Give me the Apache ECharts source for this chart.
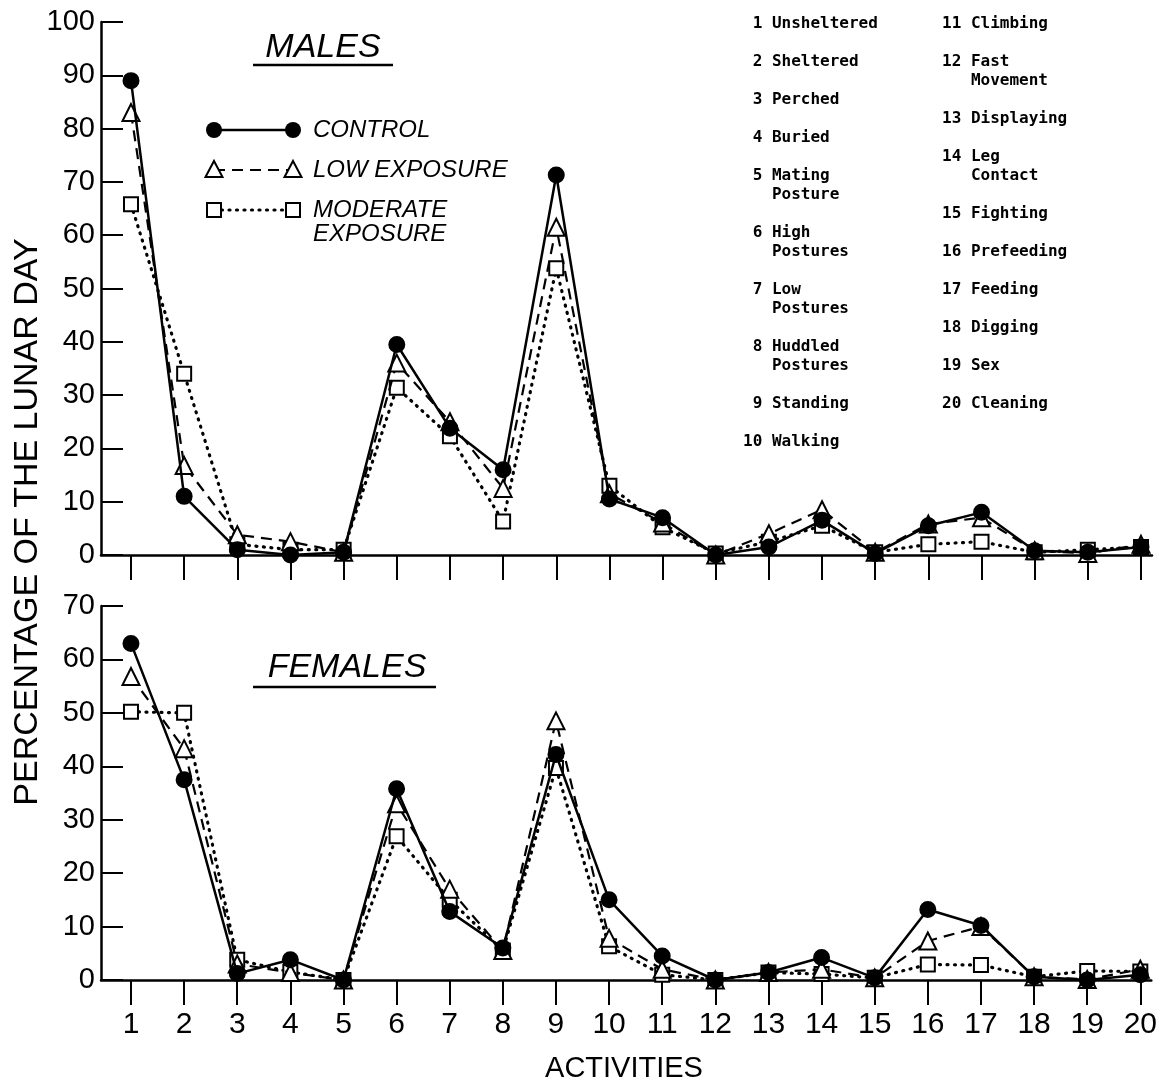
<!DOCTYPE html>
<html>
<head>
<meta charset="utf-8">
<script src="https://cdn.jsdelivr.net/npm/echarts@6/dist/echarts.min.js"></script>
<style>
  html, body { margin: 0; padding: 0; background: #ffffff; }
  #chart { width: 1160px; height: 1086px; }
</style>
</head>
<body>
<div id="chart"></div>
<script>
// Activity codes used on the x axis and in the key
const activityNumbers = [1, 2, 3, 4, 5, 6, 7, 8, 9, 10, 11, 12, 13, 14, 15, 16, 17, 18, 19, 20];
const activityNames = [
  'Unsheltered', 'Sheltered', 'Perched', 'Buried', 'Mating\nPosture',
  'High\nPostures', 'Low\nPostures', 'Huddled\nPostures', 'Standing', 'Walking',
  'Climbing', 'Fast\nMovement', 'Displaying', 'Leg\nContact', 'Fighting',
  'Prefeeding', 'Feeding', 'Digging', 'Sex', 'Cleaning'
];

// Percentage of the lunar day spent in each activity — males
const malesControl  = [89, 11, 1, 0, 0.5, 39.5, 23.8, 16, 71.3, 10.5, 7, 0, 1.5, 6.5, 0.3, 5.5, 8, 0.8, 0.5, 1.5];
const malesLow      = [83, 16.8, 3.8, 2.5, 0.5, 36, 25, 12.5, 61.5, 11.5, 6, 0, 4, 8.5, 0.5, 5.8, 7, 0.8, 0.3, 2];
const malesModerate = [65.8, 34, 2, 1, 1, 31.4, 22.3, 6.3, 53.8, 13, 5.2, 0.3, 2.5, 5.5, 0.5, 2, 2.5, 0.5, 1, 1.5];

// Percentage of the lunar day spent in each activity — females
const femalesControl  = [63, 37.5, 1.2, 3.8, 0, 35.8, 12.8, 6, 42.2, 15, 4.5, 0, 1.4, 4.2, 0.4, 13.2, 10.2, 0.6, 0, 1];
const femalesLow      = [56.8, 43.3, 3, 1.4, 0, 33, 17, 5.5, 48.5, 7.8, 2, 0, 1.4, 2, 0.4, 7.3, 10, 0.6, 0.1, 2];
const femalesModerate = [50.2, 50, 3.8, 1.5, 0, 26.9, 15, 5.5, 39.7, 6.3, 1, 0, 1.4, 1.1, 0.4, 2.9, 2.8, 0.6, 1.7, 1.6];

// Y-axis tick values
const malesTicks = [0, 10, 20, 30, 40, 50, 60, 70, 80, 90, 100];
const femalesTicks = [0, 10, 20, 30, 40, 50, 60, 70];

const INK = '#000000';
const NUM_FONT = '"Liberation Sans", "DejaVu Sans", sans-serif';
const MONO_FONT = '"DejaVu Sans Mono", "Liberation Mono", monospace';

function pairs(values) {
  return activityNumbers.map((n, i) => [n, values[i]]);
}

function keyColumn(first, count) {
  const lines = [];
  for (let i = 0; i < count; i++) {
    if (i > 0) lines.push('');
    const parts = activityNames[first + i].split('\n');
    lines.push(String(activityNumbers[first + i]).padStart(2, ' ') + ' ' + parts[0]);
    for (let k = 1; k < parts.length; k++) lines.push('   ' + parts[k]);
  }
  return lines.join('\n');
}

const treatments = [
  { name: 'MODERATE EXPOSURE', symbol: 'rect', size: 14, fill: '#ffffff',
    line: { type: [1, 6.5], width: 3.2, cap: 'round' }, z: 2 },
  { name: 'LOW EXPOSURE', symbol: 'triangle', size: 17, fill: '#ffffff',
    line: { type: [11, 7], width: 2.2 }, z: 3 },
  { name: 'CONTROL', symbol: 'circle', size: 15, fill: INK,
    line: { type: 'solid', width: 2.5 }, z: 4 }
];

function makeSeries(t, values, panel) {
  return {
    type: 'line',
    name: t.name,
    xAxisIndex: panel,
    yAxisIndex: panel,
    data: pairs(values),
    symbol: t.symbol,
    symbolSize: t.size,
    showAllSymbol: true,
    clip: false,
    z: t.z,
    itemStyle: { color: t.fill, borderColor: INK, borderWidth: 2 },
    lineStyle: Object.assign({ color: INK }, t.line),
    emphasis: { disabled: true },
    animation: false
  };
}

function xAxisFor(panel, showLabels) {
  return {
    type: 'value',
    gridIndex: panel,
    min: 0.4357,
    max: 20.207,
    axisLine: { show: true, onZero: true, lineStyle: { color: INK, width: 2.5 } },
    axisTick: { show: true, inside: false, length: 25, customValues: activityNumbers,
                lineStyle: { color: INK, width: 2 } },
    axisLabel: { show: showLabels, customValues: activityNumbers, margin: 30,
                 color: INK, fontFamily: NUM_FONT, fontSize: 30 },
    splitLine: { show: false }
  };
}

function yAxisFor(panel, ticks) {
  return {
    type: 'value',
    gridIndex: panel,
    min: 0,
    max: ticks[ticks.length - 1],
    interval: 10,
    axisLine: { show: true, lineStyle: { color: INK, width: 2.5 } },
    axisTick: { show: true, inside: true, length: 22, lineStyle: { color: INK, width: 2 } },
    axisLabel: { color: INK, fontFamily: NUM_FONT, fontSize: 29, margin: 6 },
    splitLine: { show: false }
  };
}

// Key drawn inside the males panel: marker — line — marker, then the label
function keyRow(t, y, label) {
  const x1 = 214, x2 = 293;
  const els = [{
    type: 'line', z: 10,
    shape: { x1: x1, y1: y, x2: x2, y2: y },
    style: { stroke: INK, lineWidth: t.line.width, lineDash: t.line.type === 'solid' ? null : t.line.type,
             lineCap: t.line.cap || 'butt' }
  }];
  [x1, x2].forEach(cx => {
    if (t.symbol === 'circle') {
      els.push({ type: 'circle', z: 11, shape: { cx: cx, cy: y, r: 8 }, style: { fill: INK } });
    } else if (t.symbol === 'triangle') {
      els.push({ type: 'polygon', z: 11,
        shape: { points: [[cx, y - 9], [cx + 8.5, y + 7], [cx - 8.5, y + 7]] },
        style: { fill: '#ffffff', stroke: INK, lineWidth: 2 } });
    } else {
      els.push({ type: 'rect', z: 11, shape: { x: cx - 7, y: y - 7, width: 14, height: 14 },
        style: { fill: '#ffffff', stroke: INK, lineWidth: 2 } });
    }
  });
  els.push({ type: 'text', z: 11, x: 313, y: y,
    style: { text: label, font: 'italic 24px ' + NUM_FONT, fill: INK, align: 'left',
             verticalAlign: 'middle', lineHeight: 25 } });
  return els;
}

const graphics = [].concat(
  keyRow(treatments[2], 130, 'CONTROL'),
  keyRow(treatments[1], 170, 'LOW EXPOSURE'),
  keyRow(treatments[0], 210, 'MODERATE'),
  [
    { type: 'text', x: 313, y: 234, style: { text: 'EXPOSURE', font: 'italic 24px ' + NUM_FONT,
      fill: INK, align: 'left', verticalAlign: 'middle' } },
    // Panel titles with underlines
    { type: 'text', x: 323, y: 48, style: { text: 'MALES', font: 'italic 34px ' + NUM_FONT,
      fill: INK, align: 'center', verticalAlign: 'middle' } },
    { type: 'line', shape: { x1: 253, y1: 65, x2: 393, y2: 65 }, style: { stroke: INK, lineWidth: 2.5 } },
    { type: 'text', x: 347, y: 668, style: { text: 'FEMALES', font: 'italic 34px ' + NUM_FONT,
      fill: INK, align: 'center', verticalAlign: 'middle' } },
    { type: 'line', shape: { x1: 253, y1: 687, x2: 436, y2: 687 }, style: { stroke: INK, lineWidth: 2.5 } },
    // Activity key, two columns
    { type: 'text', x: 743, y: 14.5, style: { text: keyColumn(0, 10), font: 'bold 16px ' + MONO_FONT,
      fill: INK, align: 'left', verticalAlign: 'top', lineHeight: 19 } },
    { type: 'text', x: 942, y: 14.5, style: { text: keyColumn(10, 10), font: 'bold 16px ' + MONO_FONT,
      fill: INK, align: 'left', verticalAlign: 'top', lineHeight: 19 } },
    // Axis titles
    { type: 'text', x: 28, y: 522, rotation: Math.PI / 2,
      style: { text: 'PERCENTAGE OF THE LUNAR DAY', font: '34px ' + NUM_FONT, fill: INK,
               align: 'center', verticalAlign: 'middle' } },
    { type: 'text', x: 624, y: 1069,
      style: { text: 'ACTIVITIES', font: '29px "Liberation Sans Narrow", ' + NUM_FONT, fill: INK,
               align: 'center', verticalAlign: 'middle' } }
  ]
);

const chart = echarts.init(document.getElementById('chart'), null, { renderer: 'canvas' });
chart.setOption({
  backgroundColor: '#ffffff',
  animation: false,
  grid: [
    { left: 101, top: 22, width: 1051, height: 533 },
    { left: 101, top: 606, width: 1051, height: 374 }
  ],
  xAxis: [xAxisFor(0, false), xAxisFor(1, true)],
  yAxis: [yAxisFor(0, malesTicks), yAxisFor(1, femalesTicks)],
  series: [
    makeSeries(treatments[0], malesModerate, 0),
    makeSeries(treatments[1], malesLow, 0),
    makeSeries(treatments[2], malesControl, 0),
    makeSeries(treatments[0], femalesModerate, 1),
    makeSeries(treatments[1], femalesLow, 1),
    makeSeries(treatments[2], femalesControl, 1)
  ],
  graphic: graphics
});
</script>
</body>
</html>
